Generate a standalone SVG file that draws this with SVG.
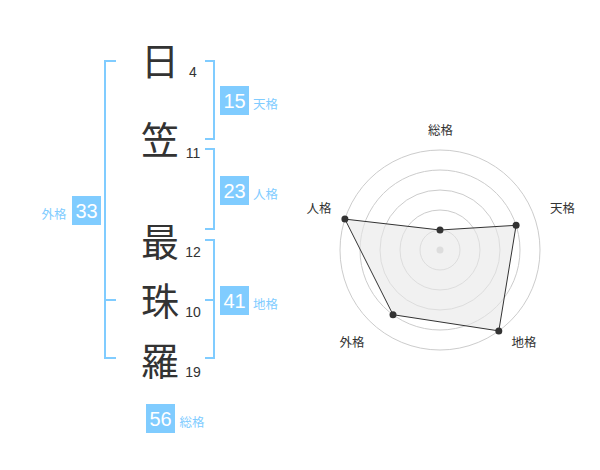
<svg xmlns="http://www.w3.org/2000/svg" width="600" height="470" viewBox="0 0 600 470">
<style>
.ch{font-family:"Noto Sans CJK JP","Noto Sans CJK SC",sans-serif;font-size:38px;fill:#333;text-anchor:middle}
.num{font-family:"Liberation Sans",Arial,sans-serif;font-size:14px;fill:#333;text-anchor:middle}
.br{fill:none;stroke:#80ccff;stroke-width:2}
.box{fill:#80ccff}
.bt{font-family:"Liberation Sans",Arial,sans-serif;font-size:20px;fill:#fff;text-anchor:middle}
.bl{font-family:"Noto Sans CJK JP","Noto Sans CJK SC",sans-serif;font-size:12.5px;fill:#80ccff}
.ring{fill:none;stroke:#ccc;stroke-width:1}
.rl{font-family:"Noto Sans CJK JP","Noto Sans CJK SC",sans-serif;font-size:12.5px;fill:#333;text-anchor:middle}
.pt{fill:#333}
</style>
<rect width="600" height="470" fill="#fff"/>
<g id="connectors">
<path class="br" d="M116,61 H105 V358 H116 M105,300 H116"/>
<path class="br" d="M205,61 H214 V139 H205"/>
<path class="br" d="M205,149 H214 V229 H205"/>
<path class="br" d="M205,240 H214 V358 H205 M205,300 H214"/>
</g>
<g id="char-1"><text class="ch" x="160" y="75">日</text><text class="num" x="193" y="77">4</text></g>
<g id="char-2"><text class="ch" x="160" y="154">笠</text><text class="num" x="193" y="158">11</text></g>
<g id="char-3"><text class="ch" x="160" y="256">最</text><text class="num" x="193" y="257">12</text></g>
<g id="char-4"><text class="ch" x="160" y="315">珠</text><text class="num" x="193" y="317">10</text></g>
<g id="char-5"><text class="ch" x="160" y="375">羅</text><text class="num" x="193" y="377">19</text></g>
<g id="tenkaku"><rect class="box" x="220" y="86" width="29" height="29"/><text class="bt" x="234.5" y="108">15</text><text class="bl" x="253" y="109">天格</text></g>
<g id="jinkaku"><rect class="box" x="220" y="176" width="29" height="29"/><text class="bt" x="234.5" y="198">23</text><text class="bl" x="253" y="199">人格</text></g>
<g id="chikaku"><rect class="box" x="220" y="286" width="29" height="29"/><text class="bt" x="234.5" y="308">41</text><text class="bl" x="253" y="309">地格</text></g>
<g id="gaikaku"><rect class="box" x="72" y="196" width="29" height="29"/><text class="bt" x="86.5" y="218">33</text><text class="bl" x="41.5" y="219">外格</text></g>
<g id="soukaku"><rect class="box" x="146" y="404" width="29" height="29"/><text class="bt" x="160.5" y="426">56</text><text class="bl" x="179.5" y="427">総格</text></g>
<g id="radar">
<circle class="ring" cx="440" cy="250" r="20"/>
<circle class="ring" cx="440" cy="250" r="40"/>
<circle class="ring" cx="440" cy="250" r="60"/>
<circle class="ring" cx="440" cy="250" r="80"/>
<circle class="ring" cx="440" cy="250" r="100"/>
<circle cx="440" cy="250" r="3.5" fill="#ccc"/>
<polygon points="440,230 516.1,225.3 498.8,330.9 393,314.7 344.9,219.1" fill="#e8e8e8" fill-opacity="0.6" stroke="#333" stroke-width="1"/>
<circle class="pt" cx="440" cy="230" r="3.5"/>
<circle class="pt" cx="516.1" cy="225.3" r="3.5"/>
<circle class="pt" cx="498.8" cy="330.9" r="3.5"/>
<circle class="pt" cx="393" cy="314.7" r="3.5"/>
<circle class="pt" cx="344.9" cy="219.1" r="3.5"/>
<text class="rl" x="440.5" y="134.5">総格</text>
<text class="rl" x="562.5" y="212.5">天格</text>
<text class="rl" x="319" y="212.5">人格</text>
<text class="rl" x="352" y="346.5">外格</text>
<text class="rl" x="524" y="346.5">地格</text>
</g>
</svg>
